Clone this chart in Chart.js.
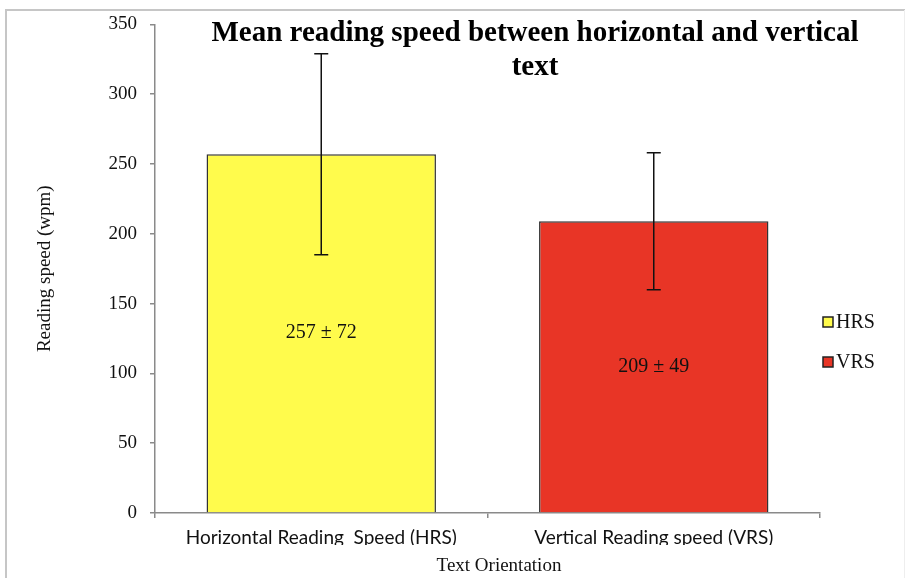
<!DOCTYPE html>
<html>
<head>
<meta charset="utf-8">
<script src="https://cdn.jsdelivr.net/npm/chart.js@4.4.1/dist/chart.umd.min.js"></script>
<style>
  body { margin: 0; background: #fff; }
  #wrap { width: 905px; height: 578px; }
</style>
</head>
<body>
<div id="wrap"><canvas id="chart" width="905" height="578"></canvas></div>
<script>
const categories = ["Horizontal Reading  Speed (HRS)", "Vertical Reading speed (VRS)"];
const legendNames = ["HRS", "VRS"];
const means = [257, 209];
const sds = [72, 49];
const barColors = ["#FFFB4C", "#E83526"];
const yMax = 350;
const yStep = 50;

const serif = "'Liberation Serif', 'Times New Roman', serif";

// error bars, value labels, title, legend and the outer frame
const extras = {
    id: "extras",
    afterDatasetsDraw(chart) {
        const ctx = chart.ctx;
        const y = chart.scales.y;
        const meta = chart.getDatasetMeta(0);

        ctx.save();
        meta.data.forEach((bar, i) => {
            const top = y.getPixelForValue(means[i] + sds[i]);
            const bottom = y.getPixelForValue(means[i] - sds[i]);
            ctx.strokeStyle = "#111";
            ctx.lineWidth = 1.5;
            ctx.beginPath();
            ctx.moveTo(bar.x, top);
            ctx.lineTo(bar.x, bottom);
            ctx.moveTo(bar.x - 7, top);
            ctx.lineTo(bar.x + 7, top);
            ctx.moveTo(bar.x - 7, bottom);
            ctx.lineTo(bar.x + 7, bottom);
            ctx.stroke();

            ctx.fillStyle = "#111";
            ctx.font = "20px " + serif;
            ctx.textAlign = "center";
            ctx.textBaseline = "middle";
            const mid = (bar.y + bar.base) / 2;
            ctx.fillText(means[i] + " \u00b1 " + sds[i], bar.x, mid);
        });
        ctx.restore();
    },
    afterDraw(chart) {
        const ctx = chart.ctx;
        const area = chart.chartArea;
        ctx.save();

        // descenders of the category labels are cut off in the original
        ctx.fillStyle = "#fff";
        ctx.fillRect(area.left + 5, 545, area.right - area.left, 8);

        // x axis title
        ctx.fillStyle = "#111";
        ctx.font = "19px " + serif;
        ctx.textAlign = "center";
        ctx.textBaseline = "middle";
        ctx.fillText("Text Orientation", 499, 566);

        // title
        ctx.fillStyle = "#000";
        ctx.font = "bold 29px " + serif;
        ctx.fillText("Mean reading speed between horizontal and vertical", 535, 34);
        ctx.fillText("text", 535, 68);

        // legend
        ctx.font = "20px " + serif;
        ctx.textAlign = "left";
        legendNames.forEach((name, i) => {
            const cy = 322 + i * 40;
            ctx.fillStyle = barColors[i];
            ctx.fillRect(823, cy - 5, 10, 10);
            ctx.strokeStyle = "#222";
            ctx.lineWidth = 1.5;
            ctx.strokeRect(823, cy - 5, 10, 10);
            ctx.fillStyle = "#111";
            ctx.fillText(name, 836, cy + 1);
        });

        // frame
        ctx.strokeStyle = "#c6c6c6";
        ctx.lineWidth = 2;
        ctx.beginPath();
        ctx.moveTo(6, 578);
        ctx.lineTo(6, 10);
        ctx.lineTo(905, 10);
        ctx.stroke();
        ctx.strokeStyle = "#eee";
        ctx.lineWidth = 1;
        ctx.beginPath();
        ctx.moveTo(904.5, 10);
        ctx.lineTo(904.5, 578);
        ctx.stroke();
        ctx.restore();
    }
};

const ctx = document.getElementById("chart").getContext("2d");
new Chart(ctx, {
    type: "bar",
    data: {
        labels: categories,
        datasets: [
            {
                label: "Reading speed",
                data: means,
                backgroundColor: barColors,
                borderColor: "#333",
                borderWidth: 1.5,
                categoryPercentage: 1,
                barPercentage: 0.69,
            },
        ],
    },
    options: {
        responsive: false,
        animation: false,
        layout: {
            padding: { left: 30, right: 85, top: 18, bottom: 0 },
        },
        plugins: {
            legend: { display: false },
            title: { display: false },
            tooltip: { enabled: false },
        },
        scales: {
            x: {
                afterFit: (s) => { s.height = 65; },
                border: { color: "#8a8a8a", width: 1.5 },
                grid: {
                    offset: true,
                    drawOnChartArea: false,
                    tickLength: 5,
                    color: "#8a8a8a",
                    lineWidth: 1.5,
                },
                ticks: {
                    color: "#111",
                    font: { family: "Lato", size: 19 },
                    padding: 8,
                    maxRotation: 0,
                },
            },
            y: {
                min: 0,
                max: yMax,
                afterFit: (s) => { s.width = 125; },
                border: { color: "#8a8a8a", width: 1.5 },
                grid: {
                    drawOnChartArea: false,
                    tickLength: 5,
                    color: "#8a8a8a",
                    lineWidth: 1.5,
                },
                ticks: {
                    stepSize: yStep,
                    color: "#111",
                    font: { family: serif, size: 19 },
                    padding: 13,
                },
                title: {
                    display: true,
                    text: "Reading speed (wpm)",
                    color: "#111",
                    font: { family: serif, size: 19 },
                    padding: { top: 4, bottom: 0 },
                },
            },
        },
    },
    plugins: [extras],
});
</script>
</body>
</html>
